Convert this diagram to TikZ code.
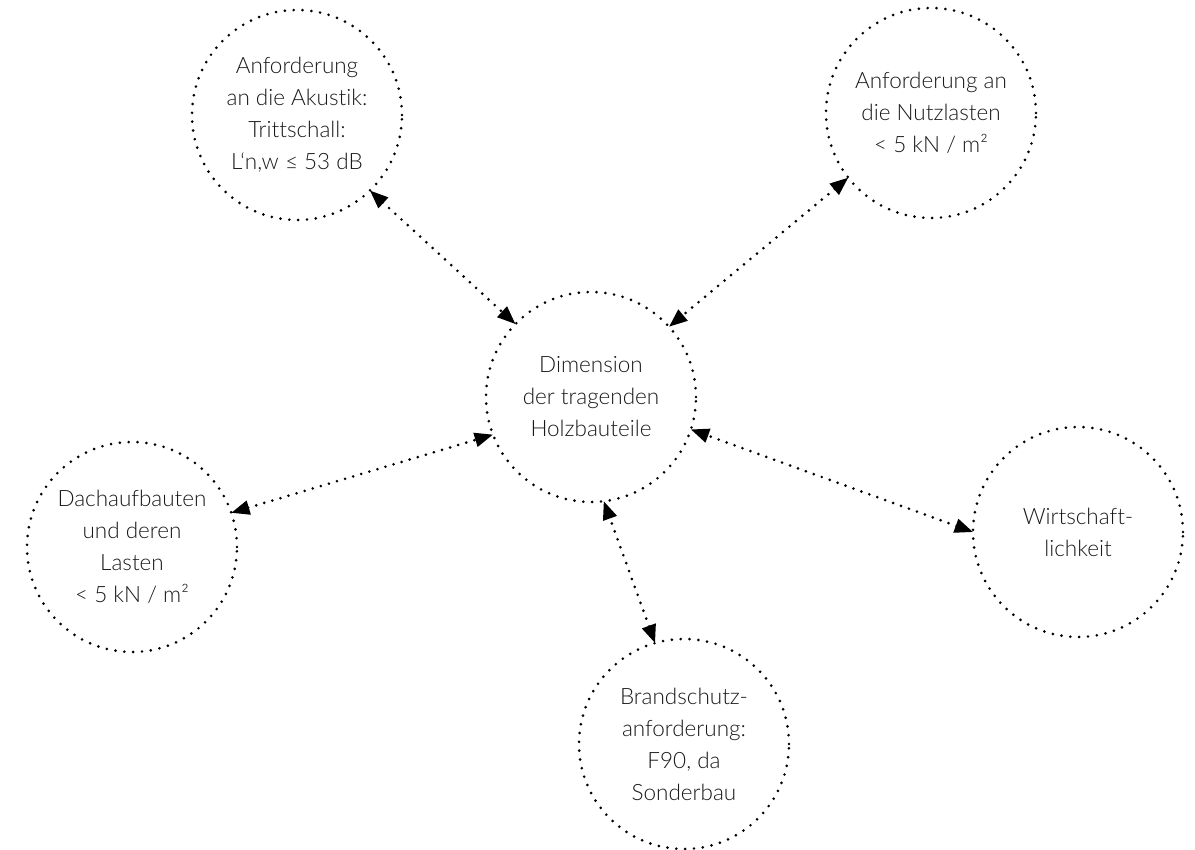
\documentclass[tikz,border=0pt]{standalone}
\usepackage{fontspec}
\setmainfont{Lato}[UprightFont=* Light, Ligatures=NoCommon]
\usepackage{tikz}
\usetikzlibrary{arrows.meta,positioning}

\begin{document}
\begin{tikzpicture}[
    node distance=5cm,
    on grid,
    bubble/.style={circle, draw, line width=2.1pt, dash pattern=on 0pt off 6.3pt, line cap=round, minimum size=5.25cm, inner sep=0pt, outer sep=0pt, align=center, text=black!90, font=\fontsize{16}{22.8}\selectfont},
    link/.style={{Triangle[length=13pt,width=10pt]}-{Triangle[length=13pt,width=10pt]}, line width=2.1pt, dash pattern=on 0pt off 6pt, line cap=round}
]

% fixed frame
\useasboundingbox (-14.775,9.925) rectangle (15.1,-11.325);

% Center
\node[bubble] (dim) {Dimension\\der tragenden\\Holzbauteile};

% Requirements around it
\node[bubble, above left=7.05cm and 7.35cm of dim] (akustik) {Anforderung\\an die Akustik:\\Trittschall:\\L‘n,w ≤ 53 dB};
\node[bubble, above right=7.1cm and 8.5cm of dim] (nutzlast) {Anforderung an\\die Nutzlasten\\< 5 kN / m²};
\node[bubble, below left=3.75cm and 11.475cm of dim] (dach) {Dachaufbauten\\und deren\\Lasten\\< 5 kN / m²};
\node[bubble, below right=3.375cm and 12.175cm of dim] (wirtschaft) {Wirtschaft-\\lichkeit};
\node[bubble, below right=8.675cm and 2.325cm of dim] (brand) {Brandschutz-\\anforderung:\\F90, da\\Sonderbau};

% Arrows
\draw[link] (akustik.-46) -- (dim.136);
\draw[link] (nutzlast.-142) -- (dim.42);
\draw[link] (dach.19) -- (dim.-159);
\draw[link] (wirtschaft.180) -- (dim.-18);
\draw[link] (brand.106) -- (dim.-83);

\end{tikzpicture}
\end{document}
